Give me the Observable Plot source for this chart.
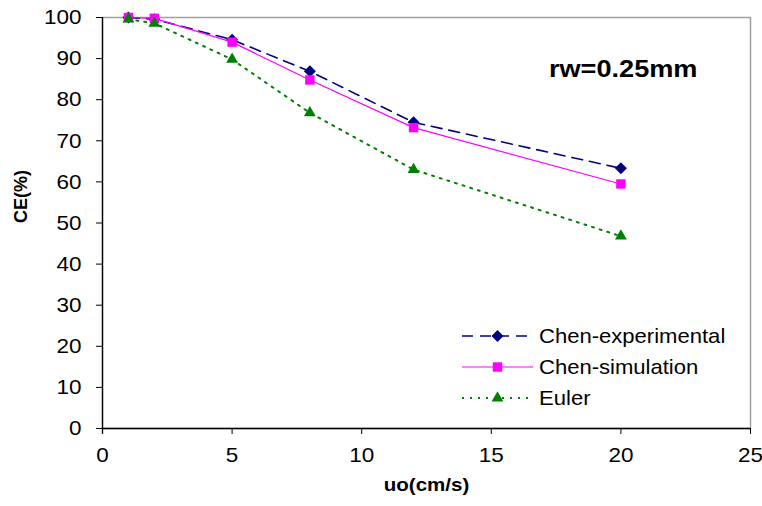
<!DOCTYPE html>
<html><head><meta charset="utf-8">
<script src="https://cdn.jsdelivr.net/npm/d3@7"></script>
<script src="https://cdn.jsdelivr.net/npm/@observablehq/plot@0.6"></script>
<style>body{margin:0;background:#fff} #chart{width:762px;height:506px}</style>
</head><body><div id="chart"></div>
<script>
// ---- data ----
const speeds = [1, 2, 5, 8, 12, 20];
const chenExperimental = [100, 99.6, 94.6, 86.9, 74.5, 63.3];
const chenSimulation = [100, 99.8, 94, 84.8, 73.2, 59.5];
const euler = [99.6, 98.6, 89.8, 76.8, 63, 46.8];
const seriesNames = ["Chen-experimental", "Chen-simulation", "Euler"];
const xTicks = [0, 5, 10, 15, 20, 25];
const yTicks = [0, 10, 20, 30, 40, 50, 60, 70, 80, 90, 100];
const xTitle = "uo(cm/s)";
const yTitle = "CE(%)";
const annotation = ["rw=0.25mm"];

// ---- styles ----
const styles = {
  "Chen-experimental": {color: "#000080", dash: "11,7", width: 1.6, symbol: "diamond2", r: 5.4},
  "Chen-simulation": {color: "#ff00ff", dash: null, width: 1.2, symbol: "square", r: 5.3},
  "Euler": {color: "#008000", dash: "2,6", width: 2, symbol: "triangle", r: 4.4}
};
const valuesBySeries = [chenExperimental, chenSimulation, euler];
const rows = seriesNames.flatMap((s, i) => speeds.map((x, j) => ({series: s, x, y: valuesBySeries[i][j]})));

const font = "'Liberation Sans', Arial, sans-serif";
const seriesMarks = seriesNames.flatMap(s => {
  const st = styles[s];
  const d = rows.filter(r => r.series === s);
  return [
    Plot.line(d, {x: "x", y: "y", stroke: st.color, strokeWidth: st.width, strokeDasharray: st.dash || undefined}),
    Plot.dot(d, {x: "x", y: "y", symbol: () => st.symbol, fill: st.color, stroke: "none", r: st.r})
  ];
});

const svg = Plot.plot({
  width: 762, height: 506,
  marginLeft: 102, marginRight: 12, marginTop: 17, marginBottom: 78,
  style: {fontFamily: font, fontSize: "21px", color: "#000", background: "#fff", overflow: "visible"},
  x: {domain: [0, 25]},
  y: {domain: [0, 100]},
  symbol: {type: "identity"},
  marks: [
    Plot.frame({stroke: "#a0a0a0", strokeWidth: 1.5}),
    Plot.axisX({ticks: xTicks, tickSize: 6, tickPadding: 13, label: null, fontSize: 21, stroke: "#000"}),
    Plot.axisY({ticks: yTicks, tickSize: 6, tickPadding: 15, label: null, fontSize: 21, stroke: "#000"}),
    Plot.ruleX([0], {stroke: "#000", strokeWidth: 1.3, insetBottom: -6}),
    Plot.ruleY([0], {stroke: "#000", strokeWidth: 1.3}),
    ...seriesMarks,
    Plot.text([xTitle], {text: d => d, frameAnchor: "bottom", dy: 62, fontWeight: "bold", fontSize: 19}),
    Plot.text([yTitle], {text: d => d, frameAnchor: "left", dx: -81, rotate: -90, fontWeight: "bold", fontSize: 18}),
    Plot.text(annotation, {text: d => d, frameAnchor: "top-right", dx: -53, dy: 43, textAnchor: "end", fontWeight: "bold", fontSize: 23})
  ]
});

// ---- legend ----
const lg = d3.select(svg).append("g").attr("class", "legend").attr("font-family", font).attr("font-size", 21).attr("text-anchor", "start");
const lx1 = 462, lx2 = 533, tx = 539, ly0 = 336, lstep = 31;
seriesNames.forEach((s, i) => {
  const st = styles[s];
  const y = ly0 + i * lstep;
  lg.append("line").attr("x1", lx1).attr("x2", lx2).attr("y1", y).attr("y2", y)
    .attr("stroke", st.color).attr("stroke-width", st.width).attr("stroke-dasharray", st.dash);
  const symType = {diamond2: d3.symbolDiamond2, square: d3.symbolSquare, triangle: d3.symbolTriangle}[st.symbol];
  lg.append("path").attr("transform", `translate(${(lx1 + lx2) / 2},${y})`)
    .attr("d", d3.symbol(symType, Math.PI * st.r * st.r)()).attr("fill", st.color);
  lg.append("text").attr("x", tx).attr("y", y).attr("dy", "0.35em").text(s);
});

document.getElementById("chart").appendChild(svg);

// horizontal stretch of text to mimic the reference rendering
function stretchEl(el, f) {
  const len = el.getComputedTextLength();
  el.setAttribute("textLength", (len * f).toFixed(1));
  el.setAttribute("lengthAdjust", "spacingAndGlyphs");
}
const factors = new Map([[xTitle, 1.08], [annotation[0], 1.18]]);
seriesNames.forEach(s => factors.set(s, 1.05));
d3.select(svg).selectAll('g[aria-label="x-axis tick label"] text, g[aria-label="y-axis tick label"] text')
  .each(function() { stretchEl(this, 1.07); });
d3.select(svg).selectAll("text").each(function() {
  const f = factors.get(this.textContent);
  if (f) stretchEl(this, f);
});
</script>
</body></html>
